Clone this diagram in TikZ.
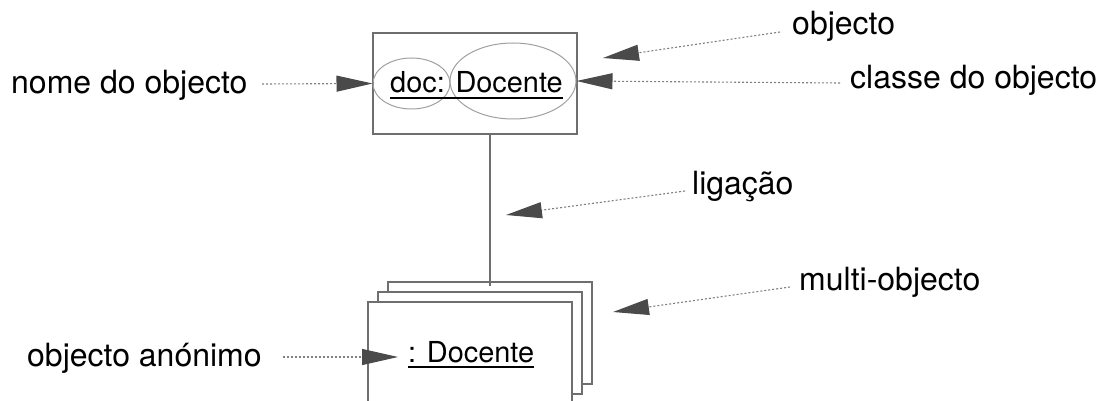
\documentclass[tikz,border=0pt]{standalone}
\usepackage{fontspec}
\setmainfont{TeX Gyre Heros}
\usetikzlibrary{arrows.meta,shapes.geometric}
\definecolor{boxgray}{HTML}{6E6E6E}
\definecolor{ovalgray}{HTML}{A0A0A0}
\definecolor{dotgray}{HTML}{808080}
\definecolor{headgray}{HTML}{4A4A4A}
\begin{document}
\begin{tikzpicture}[x=1pt,y=-1pt,
  label/.style={anchor=base west,inner sep=0pt,font=\fontsize{32}{36}\selectfont},
  objtext/.style={anchor=base west,inner sep=0pt,font=\fontsize{28.9}{34}\selectfont},
  frame/.style={draw=boxgray,line width=1.2pt,fill=white,inner sep=0pt},
  oval/.style={draw=ovalgray,line width=1pt,ellipse,inner sep=0pt},
  pointer/.style={draw=dotgray,line width=1.1pt,dash pattern=on 2pt off 2pt,
    -{Triangle[length=36pt,width=16pt,color=headgray,fill=headgray]}},
  uline/.style={line width=2.4pt,line cap=butt}
]
\useasboundingbox (0,0) rectangle (1106,401);
\clip (0,0) rectangle (1106,401);

% single object
\node[frame,minimum width=204pt,minimum height=101pt] (obj) at (475,83.5) {};
\node[oval,minimum width=77pt,minimum height=51pt] (nameoval) at (411.5,83.5) {};
\node[oval,minimum width=126pt,minimum height=76pt] (classoval) at (513,81) {};
\node[objtext] (objname) at (390,93) {doc: Docente};
\draw[uline] ([yshift=-5pt]objname.base west) -- ([yshift=-5pt]objname.base east);

% multi-object stack
\node[frame,minimum width=204pt,minimum height=102pt] (back) at (490,333) {};
\node[frame,minimum width=204pt,minimum height=102pt] (middle) at (480,343) {};
\node[frame,minimum width=204pt,minimum height=120pt] (front) at (470,362) {};
\node[objtext] (anonname) at (408,362) {: Docente};
\draw[uline] ([yshift=-5pt]anonname.base west) -- ([yshift=-5pt]anonname.base east);

% link
\coordinate (linktop) at (490,134);
\draw[draw=boxgray,line width=1.2pt] (linktop) -- ([yshift=-5pt]linktop |- back.north);

% labels
\node[label] (lnome) at (11,94) {nome do objecto};
\node[label] (lobj) at (792,35) {objecto};
\node[label] (lclasse) at (850,89) {classe do objecto};
\node[label] (lliga) at (692,194) {ligação};
\node[label] (lmulti) at (799,290) {multi-objecto};
\node[label] (lanon) at (27,366) {objecto anónimo};

% pointer ends
\coordinate (pnome) at (262,84);
\coordinate (pclasse) at (840,83);
\coordinate (pobj) at (780,32);
\coordinate (tobj) at (603,58);
\coordinate (pliga) at (685,191);
\coordinate (tliga) at (506,215);
\coordinate (pmulti) at (790,287);
\coordinate (tmulti) at (613,312);
\coordinate (panon) at (283,357);
\coordinate (tanon) at (398,357);

\draw[pointer] (pnome) -- (nameoval.west);
\draw[pointer] (pclasse) -- (classoval.east);
\draw[pointer] (pobj) -- (tobj);
\draw[pointer] (pliga) -- (tliga);
\draw[pointer] (pmulti) -- (tmulti);
\draw[pointer] (panon) -- (tanon);
\end{tikzpicture}
\end{document}
